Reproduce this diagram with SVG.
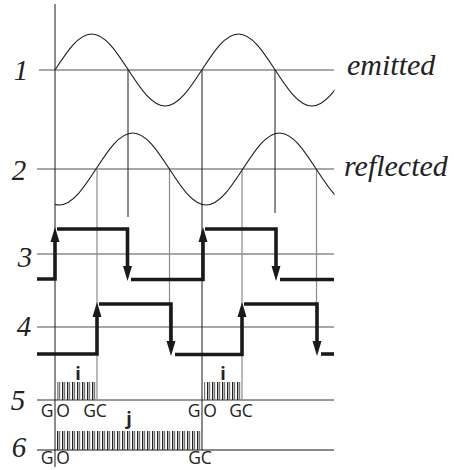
<svg xmlns="http://www.w3.org/2000/svg" width="454" height="470" viewBox="0 0 454 470">
<style>
.axis{stroke:#8a8a8a;stroke-width:1.5;fill:none}
.dk{stroke:#1a1a1a;stroke-width:1;fill:none}
.gr{stroke:#8a8a8a;stroke-width:1.2;fill:none}
.sine{stroke:#1a1a1a;stroke-width:1.1;fill:none}
.sq{stroke:#1a1a1a;stroke-width:3.6;fill:none;stroke-linejoin:miter;stroke-linecap:butt}
.ah{fill:#1a1a1a}
.num{font-family:"Liberation Serif",serif;font-style:italic;font-size:29px;fill:#222;text-anchor:middle}
.word{font-family:"Liberation Serif",serif;font-style:italic;font-size:30px;fill:#222}
.lab{font-family:"Open Sans",sans-serif;font-size:17.5px;fill:#222;text-anchor:middle}
.big{font-family:"Open Sans",sans-serif;font-weight:bold;font-size:18px;fill:#222;text-anchor:middle}
</style>
<defs>
<pattern id="hatch" x="57" y="0" width="5" height="20" patternUnits="userSpaceOnUse">
<rect x="0" y="0" width="1.3" height="20" fill="#222"/>
<rect x="1.9" y="0" width="1.3" height="20" fill="#777"/>
</pattern>
<clipPath id="clip"><rect x="55" y="0" width="279.5" height="470"/></clipPath>
</defs>
<rect width="454" height="470" fill="#fff"/>

<g id="axes">
<line class="axis" x1="39" y1="70" x2="334" y2="70"/>
<line class="axis" x1="37" y1="169" x2="334" y2="169"/>
<line class="axis" x1="37" y1="254" x2="334" y2="254"/>
<line class="axis" x1="37" y1="327" x2="334" y2="327"/>
<line x1="37" y1="400" x2="334" y2="400" stroke="#333" stroke-width="1"/>
<line x1="37" y1="450" x2="334" y2="450" stroke="#8a8a8a" stroke-width="2"/>
</g>

<g id="labels">
<text class="num" x="21" y="80">1</text>
<text class="num" x="19" y="180">2</text>
<text class="num" x="25" y="267">3</text>
<text class="num" x="24" y="336">4</text>
<text class="num" x="18" y="410">5</text>
<text class="num" x="19" y="457">6</text>
<text class="word" x="347" y="75">emitted</text>
<text class="word" x="344" y="176">reflected</text>
</g>

<g id="connectors">
<line class="dk" x1="55" y1="4" x2="55" y2="467"/>
<line class="dk" x1="128" y1="70" x2="128" y2="217"/>
<line class="dk" x1="202" y1="70" x2="202" y2="450"/>
<line class="dk" x1="275" y1="70" x2="275" y2="213"/>
<line class="gr" x1="97" y1="169" x2="97" y2="400"/>
<line class="gr" x1="169.5" y1="169" x2="169.5" y2="344"/>
<line class="gr" x1="242" y1="169" x2="242" y2="400"/>
<line class="gr" x1="316.5" y1="169" x2="316.5" y2="344"/>
</g>

<g id="emitted-wave" clip-path="url(#clip)">
<path class="sine" d="M55,70 c11.97,-18.44 23.42,-36 36.7,-36 c13.28,0 24.73,17.56 36.7,36 c11.97,18.44 23.42,36 36.7,36 c13.28,0 24.73,-17.56 36.7,-36 c11.97,-18.44 23.42,-36 36.7,-36 c13.28,0 24.73,17.56 36.7,36 c11.97,18.44 23.42,36 36.7,36 c13.28,0 24.73,-17.56 36.7,-36"/>
</g>
<g id="reflected-wave" clip-path="url(#clip)">
<path class="sine" d="M22.6,169 c11.97,18.44 23.42,36 36.7,36 c13.28,0 24.73,-17.56 36.7,-36 c11.970,-18.44 23.42,-36 36.7,-36 c13.28,0 24.73,17.56 36.7,36 c11.97,18.44 23.42,36 36.7,36 c13.28,0 24.73,-17.56 36.7,-36 c11.97,-18.44 23.42,-36 36.7,-36 c13.28,0 24.73,17.56 36.7,36 c11.97,18.44 23.42,36 36.7,36"/>
</g>

<g id="square3">
<path class="sq" d="M37,279 H55 V240"/>
<polygon class="ah" points="55,227 50.5,242 59.5,242"/>
<path class="sq" d="M57,229 H127.5 V268"/>
<polygon class="ah" points="127.5,281 123,266 132,266"/>
<path class="sq" d="M131,279.5 H203 V240"/>
<polygon class="ah" points="203,227 198.5,242 207.5,242"/>
<path class="sq" d="M205,229 H276 V268"/>
<polygon class="ah" points="276,281 271.5,266 280.5,266"/>
<path class="sq" d="M280,279.5 H334"/>
</g>

<g id="square4">
<path class="sq" d="M37,354 H97 V315"/>
<polygon class="ah" points="97,302 92.5,317 101.5,317"/>
<path class="sq" d="M99,304 H171 V343"/>
<polygon class="ah" points="171,356 166.5,341 175.5,341"/>
<path class="sq" d="M175,354.5 H242 V315"/>
<polygon class="ah" points="242,302 237.5,317 246.5,317"/>
<path class="sq" d="M244,304 H317 V343"/>
<polygon class="ah" points="317,356 312.5,341 321.5,341"/>
<path class="sq" d="M321,354 H334"/>
</g>

<g id="row5">
<rect x="57.5" y="382" width="38.5" height="18" fill="url(#hatch)"/>
<rect x="204" y="382" width="37.5" height="18" fill="url(#hatch)"/>
<text class="big" x="78" y="380">i</text>
<text class="big" x="223" y="380">i</text>
<text class="lab" x="47" y="417">G</text>
<text class="lab" x="63" y="417">O</text>
<text class="lab" x="95" y="417">GC</text>
<text class="lab" x="194" y="417">G</text>
<text class="lab" x="210" y="417">O</text>
<text class="lab" x="241" y="417">GC</text>
</g>

<g id="row6">
<rect x="57" y="431" width="145" height="19" fill="url(#hatch)"/>
<text class="big" x="129" y="425">j</text>
<text class="lab" x="47" y="464">G</text>
<text class="lab" x="63" y="464">O</text>
<text class="lab" x="200" y="464">GC</text>
</g>
</svg>
